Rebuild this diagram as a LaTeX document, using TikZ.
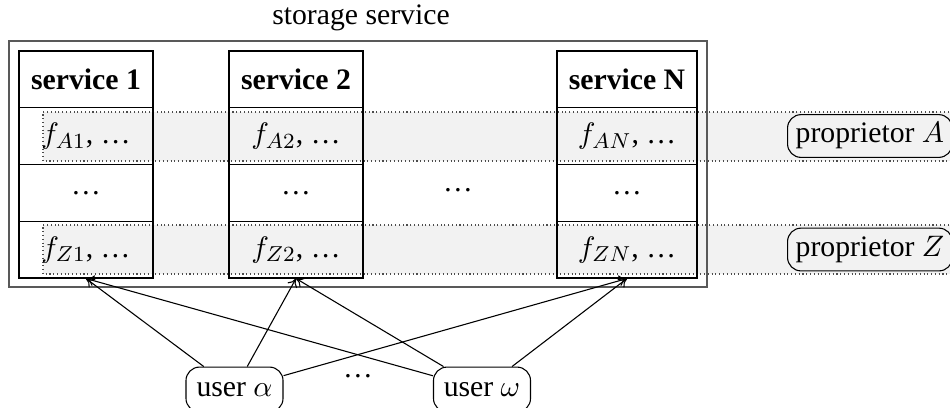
\documentclass[tikz,border=0pt]{standalone}
\usepackage{fontspec}
\setmainfont{Liberation Serif}
\usetikzlibrary{arrows.meta}
\begin{document}
\begin{tikzpicture}[x=0.37pt,y=-0.37pt,
  font=\fontsize{11}{13}\selectfont,
  cell/.style={draw, minimum height=21pt, inner sep=0pt},
  colA/.style={cell, minimum width=49.6pt},
  colB/.style={cell, minimum width=51.8pt},
  head/.style={font=\fontsize{11}{13}\selectfont\bfseries},
  band/.style={fill=black!5},
  bandline/.style={densely dotted, draw=black!70},
  outerbox/.style={draw=black!65, line width=0.6pt, minimum width=258.3pt, minimum height=91pt, inner sep=0pt},
  tag/.style={draw, rounded corners=5pt, minimum height=15.5pt, inner sep=3pt},
  usertag/.style={tag, minimum width=35.9pt, minimum height=16.6pt},
  link/.style={-{To[length=3pt,width=4pt]}, line width=0.4pt}]
\useasboundingbox (0,0) rectangle (950,407);
\clip (0,0) rectangle (950,407);
% bands
\fill[band] (43,112) rectangle (960,161);
\draw[bandline] (960,112) -- (43,112) -- (43,161) -- (960,161);
\fill[band] (43,225) rectangle (960,274);
\draw[bandline] (960,225) -- (43,225) -- (43,274) -- (960,274);
% outer box
\node[outerbox] (outer) at (358,164) {};
\node (title) at (361,18) {storage service};
% column 1
\node[colA,head] (h1) at (86,79.4) {service 1};
\node[colA] (a1) at (86,136.1) {$f_{A1}$, \dots};
\node[colA] (d1) at (86,192.9) {\dots};
\node[colA] (z1) at (86,249.6) {$f_{Z1}$, \dots};
% column 2
\node[colA,head] (h2) at (296,79.4) {service 2};
\node[colA] (a2) at (296,136.1) {$f_{A2}$, \dots};
\node[colA] (d2) at (296,192.9) {\dots};
\node[colA] (z2) at (296,249.6) {$f_{Z2}$, \dots};
% column N
\node[colB,head] (hN) at (627,79.4) {service N};
\node[colB] (aN) at (627,136.1) {$f_{AN}$, \dots};
\node[colB] (dN) at (627,192.9) {\dots};
\node[colB] (zN) at (627,249.6) {$f_{ZN}$, \dots};
\node (mid) at (458,190) {\dots};
% proprietors
\node[tag, anchor=west] (pA) at (787,136) {proprietor $A$};
\node[tag, anchor=west] (pZ) at (787,249.5) {proprietor $Z$};
% users
\node[usertag] (ua) at (234.5,389.5) {user $\alpha$};
\node[usertag] (uw) at (482,389.5) {user $\omega$};
\node (udots) at (358,376) {\dots};
% links
\draw[link] (ua) -- (z1.south);
\draw[link] (ua) -- (z2.south);
\draw[link] (ua) -- (zN.south);
\draw[link] (uw) -- (z1.south);
\draw[link] (uw) -- (z2.south);
\draw[link] (uw) -- (zN.south);
\end{tikzpicture}
\end{document}
